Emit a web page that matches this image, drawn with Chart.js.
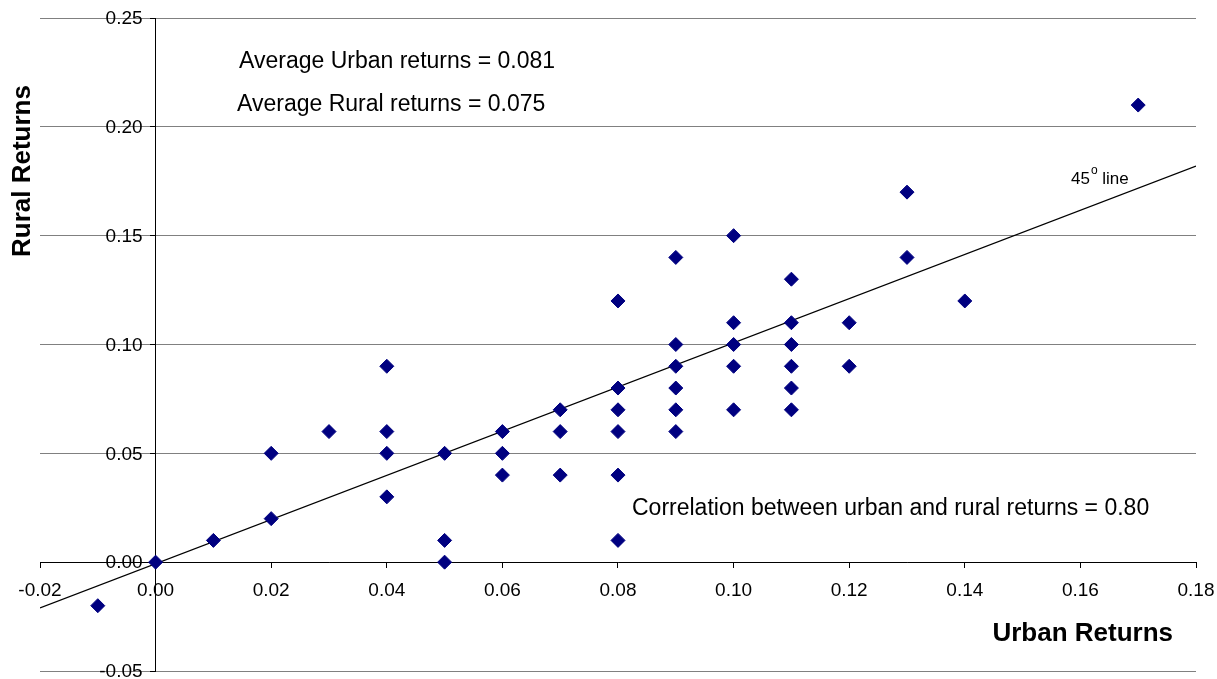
<!DOCTYPE html>
<html>
<head>
<meta charset="utf-8">
<title>Urban vs Rural Returns</title>
<script src="https://cdn.jsdelivr.net/npm/chart.js@4.4.1/dist/chart.umd.min.js"></script>
<style>
  html, body { margin: 0; padding: 0; background: #fff; }
  #wrap { width: 1217px; height: 679px; position: relative; }
</style>
</head>
<body>
<div id="wrap"><canvas id="chart"></canvas></div>
<script>
const FONT = "'Liberation Sans', Arial, Helvetica, sans-serif";

// urban / rural return pairs
const urbanReturns = [
  -0.01, 0.00, 0.01, 0.02, 0.02, 0.03,
  0.04, 0.04, 0.04, 0.04,
  0.05, 0.05, 0.05,
  0.06, 0.06, 0.06,
  0.07, 0.07, 0.07,
  0.08, 0.08, 0.08, 0.08, 0.08, 0.08,
  0.09, 0.09, 0.09, 0.09, 0.09, 0.09,
  0.10, 0.10, 0.10, 0.10, 0.10,
  0.11, 0.11, 0.11, 0.11, 0.11, 0.11,
  0.12, 0.12, 0.13, 0.13, 0.14, 0.17
];
const ruralReturns = [
  -0.02, 0.00, 0.01, 0.05, 0.02, 0.06,
  0.09, 0.06, 0.05, 0.03,
  0.05, 0.01, 0.00,
  0.06, 0.05, 0.04,
  0.07, 0.06, 0.04,
  0.12, 0.08, 0.07, 0.06, 0.04, 0.01,
  0.14, 0.10, 0.09, 0.08, 0.07, 0.06,
  0.15, 0.11, 0.10, 0.09, 0.07,
  0.13, 0.11, 0.10, 0.09, 0.08, 0.07,
  0.11, 0.09, 0.17, 0.14, 0.12, 0.21
];

// "45 degree" reference line, end points as drawn in the picture
const lineX = [-0.02, 0.18];
const lineY = [-0.021, 0.182];

const xTicks = { min: -0.02, max: 0.18, step: 0.02 };
const yTicks = { min: -0.05, max: 0.25, step: 0.05 };

const avgUrban = 0.081;
const avgRural = 0.075;
const correlation = 0.80;

const points = urbanReturns.map((u, i) => ({ x: u, y: ruralReturns[i] }));
const linePts = lineX.map((x, i) => ({ x, y: lineY[i] }));

const fmt = v => (Math.abs(v) < 1e-9 ? 0 : v).toFixed(2);

/* y tick labels sit a little left of the y axis (Chart.js puts them right on it) */
const yLabelsPlugin = {
  id: "yLabels",
  afterDraw(chart) {
    const ctx = chart.ctx;
    const ys = chart.scales.y;
    const axisX = chart.scales.x.getPixelForValue(0);
    ctx.save();
    ctx.fillStyle = "#000";
    ctx.font = `19px ${FONT}`;
    ctx.textAlign = "right";
    ctx.textBaseline = "middle";
    ys.ticks.forEach(t => {
      ctx.fillText(fmt(t.value), axisX - 13, ys.getPixelForValue(t.value) + 1);
    });
    ctx.restore();
  }
};

/* text drawn on top of the chart */
const labelsPlugin = {
  id: "labels",
  afterDraw(chart) {
    const ctx = chart.ctx;
    ctx.save();
    ctx.fillStyle = "#000";
    ctx.textBaseline = "middle";
    ctx.textAlign = "left";

    ctx.font = `23px ${FONT}`;
    ctx.fillText(`Average Urban returns = ${avgUrban.toFixed(3)}`, 239, 62);
    ctx.fillText(`Average Rural returns = ${avgRural.toFixed(3)}`, 237, 105);
    ctx.fillText(`Correlation between urban and rural returns = ${correlation.toFixed(2)}`, 632, 509);

    // 45° line label with a raised "o"
    ctx.font = `17px ${FONT}`;
    ctx.fillText("45", 1071, 179);
    const w = ctx.measureText("45").width;
    ctx.font = `12px ${FONT}`;
    ctx.fillText("o", 1071 + w + 1, 171);
    const w2 = ctx.measureText("o").width;
    ctx.font = `17px ${FONT}`;
    ctx.fillText(" line", 1071 + w + w2 + 1, 179);

    // axis titles
    ctx.font = `bold 26px ${FONT}`;
    ctx.textAlign = "right";
    ctx.fillText("Urban Returns", 1173, 634);

    ctx.translate(23, 171);
    ctx.rotate(-Math.PI / 2);
    ctx.textAlign = "center";
    ctx.fillText("Rural Returns", 0, 0);
    ctx.restore();
  }
};

const zeroPad = s => { s.paddingLeft = 0; s.paddingRight = 0; s.paddingTop = 0; s.paddingBottom = 0; };

new Chart(document.getElementById("chart"), {
  type: "scatter",
  data: {
    datasets: [
      {
        label: "Returns",
        data: points,
        pointStyle: "rectRot",
        pointRadius: 7,
        pointHoverRadius: 7,
        backgroundColor: "#000080",
        borderColor: "#000080",
        borderWidth: 1,
        order: 1
      },
      {
        label: "45 line",
        type: "line",
        data: linePts,
        borderColor: "#000",
        borderWidth: 1.3,
        pointRadius: 0,
        fill: false,
        order: 2
      }
    ]
  },
  options: {
    responsive: true,
    maintainAspectRatio: false,
    animation: false,
    layout: { padding: { left: 40, right: 21, top: 18, bottom: 7 } },
    plugins: {
      legend: { display: false },
      tooltip: { enabled: false }
    },
    scales: {
      x: {
        type: "linear",
        position: { y: 0 },
        min: xTicks.min,
        max: xTicks.max,
        afterFit: zeroPad,
        grid: { drawOnChartArea: false, drawTicks: true, tickLength: 5, tickColor: "#000" },
        border: { color: "#000", width: 1 },
        ticks: {
          stepSize: xTicks.step,
          padding: 12,
          color: "#000",
          font: { family: FONT, size: 19 },
          maxRotation: 0,
          autoSkip: false,
          callback: v => fmt(v)
        }
      },
      y: {
        type: "linear",
        position: { x: 0 },
        min: yTicks.min,
        max: yTicks.max,
        afterFit: zeroPad,
        grid: { color: "#808080", lineWidth: 1, drawTicks: true, tickLength: 5, tickColor: "#000" },
        border: { color: "#000", width: 1 },
        ticks: {
          stepSize: yTicks.step,
          display: false,
          autoSkip: false
        }
      }
    }
  },
  plugins: [yLabelsPlugin, labelsPlugin]
});
</script>
</body>
</html>
